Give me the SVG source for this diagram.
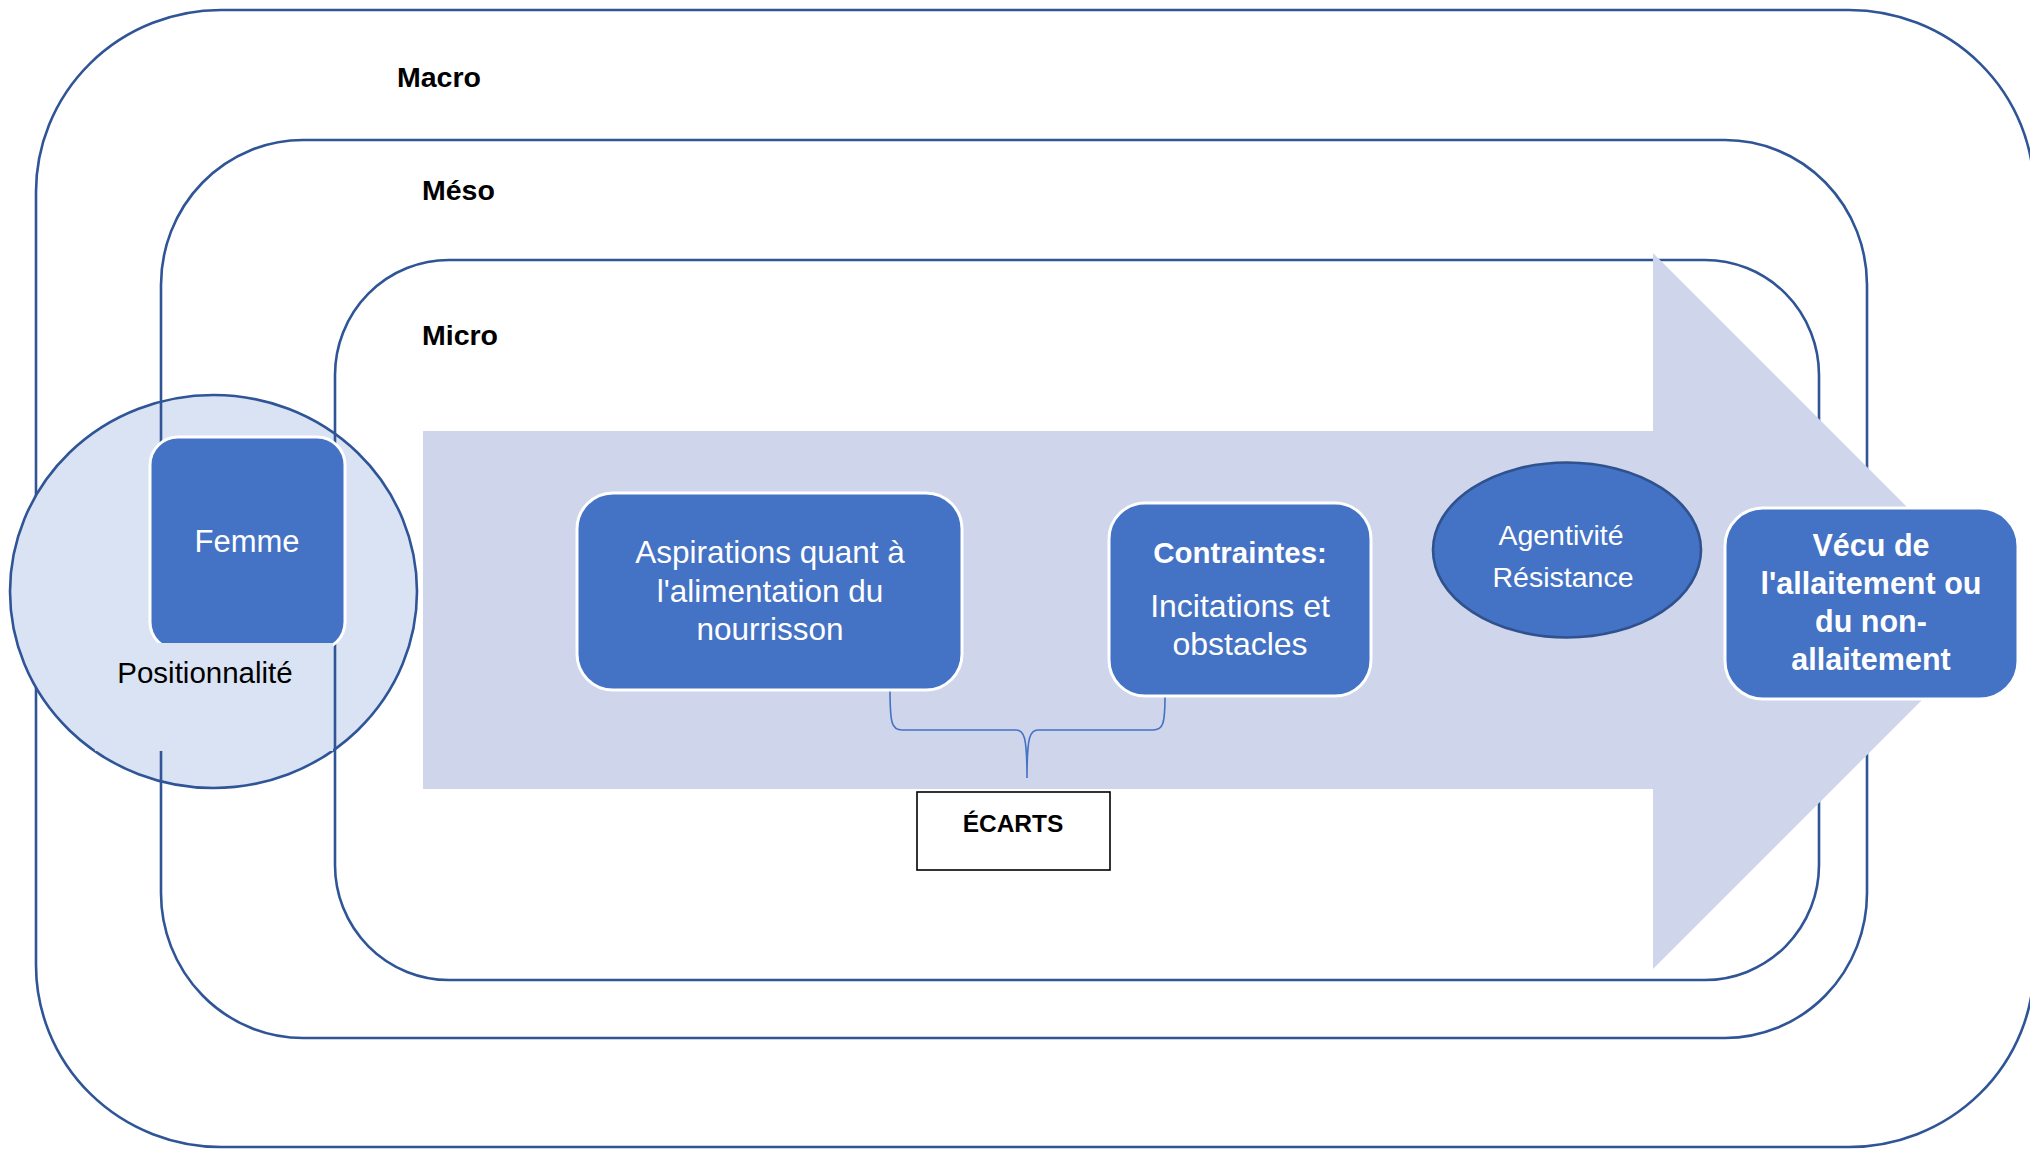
<svg xmlns="http://www.w3.org/2000/svg" width="2030" height="1149" viewBox="0 0 2030 1149">
  <style>
    .level { fill: none; stroke: #2F5597; stroke-width: 2.6; }
    .lvl-label { font-family: "Liberation Sans", Arial, sans-serif; font-weight: bold; font-size: 28.5px; fill: #000000; }
    .box { fill: #4472C4; stroke: #FFFFFF; stroke-width: 3; }
    .wt { font-family: "Liberation Sans", Arial, sans-serif; fill: #FFFFFF; text-anchor: middle; }
    .bt { font-family: "Liberation Sans", Arial, sans-serif; fill: #000000; text-anchor: middle; }
    .brace { fill: none; stroke: #4472C4; stroke-width: 1.6; }
  </style>
  <rect width="2030" height="1149" fill="#FFFFFF"/>

  <g id="macro">
    <rect class="level" x="36" y="10" width="1998" height="1137" rx="185" ry="182"/>
    <text class="lvl-label" x="397" y="87">Macro</text>
  </g>

  <g id="positionnalite-circle">
    <ellipse cx="213.5" cy="591.5" rx="203.5" ry="196.5" fill="#DAE3F3" stroke="#2F5597" stroke-width="2.6"/>
  </g>

  <g id="meso">
    <rect class="level" x="161" y="140" width="1706" height="898" rx="142" ry="145"/>
    <text class="lvl-label" x="422" y="200">Méso</text>
  </g>

  <g id="micro">
    <rect class="level" x="335" y="260" width="1484" height="720" rx="114" ry="115"/>
    <text class="lvl-label" x="422" y="345">Micro</text>
  </g>

  <g id="big-arrow">
    <polygon points="423,431 1653,431 1653,253 2011,611 1653,969 1653,789 423,789" fill="#CFD5EA"/>
  </g>

  <g id="femme">
    <rect class="box" x="150" y="437" width="195" height="213" rx="28" ry="28"/>
    <text class="wt" x="247" y="552" font-size="31">Femme</text>
  </g>

  <g id="positionnalite-label">
    <rect x="95" y="643" width="238" height="108" fill="#DAE3F3"/>
    <text class="bt" x="205" y="683" font-size="29.5">Positionnalité</text>
  </g>

  <g id="connectors">
    <path class="brace" d="M 890 690 C 890 724 892 730 902 730 L 1016 730 C 1024 730 1027 736 1027 778 C 1027 736 1030 730 1038 730 L 1153 730 C 1163 730 1165 724 1165 696"/>
  </g>

  <g id="aspirations">
    <rect class="box" x="577" y="493" width="385" height="197" rx="36" ry="36"/>
    <text class="wt" x="770" y="563" font-size="31.5">Aspirations quant à</text>
    <text class="wt" x="770" y="602" font-size="31.5">l'alimentation du</text>
    <text class="wt" x="770" y="640" font-size="31.5">nourrisson</text>
  </g>

  <g id="contraintes">
    <rect class="box" x="1109" y="503" width="262" height="193" rx="36" ry="36"/>
    <text class="wt" x="1240" y="563" font-size="29.5" font-weight="bold">Contraintes:</text>
    <text class="wt" x="1240" y="617" font-size="32">Incitations et</text>
    <text class="wt" x="1240" y="655" font-size="32">obstacles</text>
  </g>

  <g id="agentivite">
    <ellipse cx="1567" cy="550" rx="134" ry="87.5" fill="#4472C4" stroke="#2F528F" stroke-width="2.6"/>
    <text class="wt" x="1561" y="545" font-size="28.5">Agentivité</text>
    <text class="wt" x="1563" y="587" font-size="28.5">Résistance</text>
  </g>

  <g id="vecu">
    <rect class="box" x="1725" y="508" width="293" height="191" rx="38" ry="38"/>
    <text class="wt" x="1871" y="556" font-size="30.5" font-weight="bold">Vécu de</text>
    <text class="wt" x="1871" y="594" font-size="30.5" font-weight="bold">l'allaitement ou</text>
    <text class="wt" x="1871" y="632" font-size="30.5" font-weight="bold">du non-</text>
    <text class="wt" x="1871" y="670" font-size="30.5" font-weight="bold">allaitement</text>
  </g>

  <g id="ecarts">
    <rect x="917" y="792" width="193" height="78" fill="#FFFFFF" stroke="#000000" stroke-width="1.6"/>
    <text class="bt" x="1013" y="832" font-size="24.5" font-weight="bold">ÉCARTS</text>
  </g>
</svg>
